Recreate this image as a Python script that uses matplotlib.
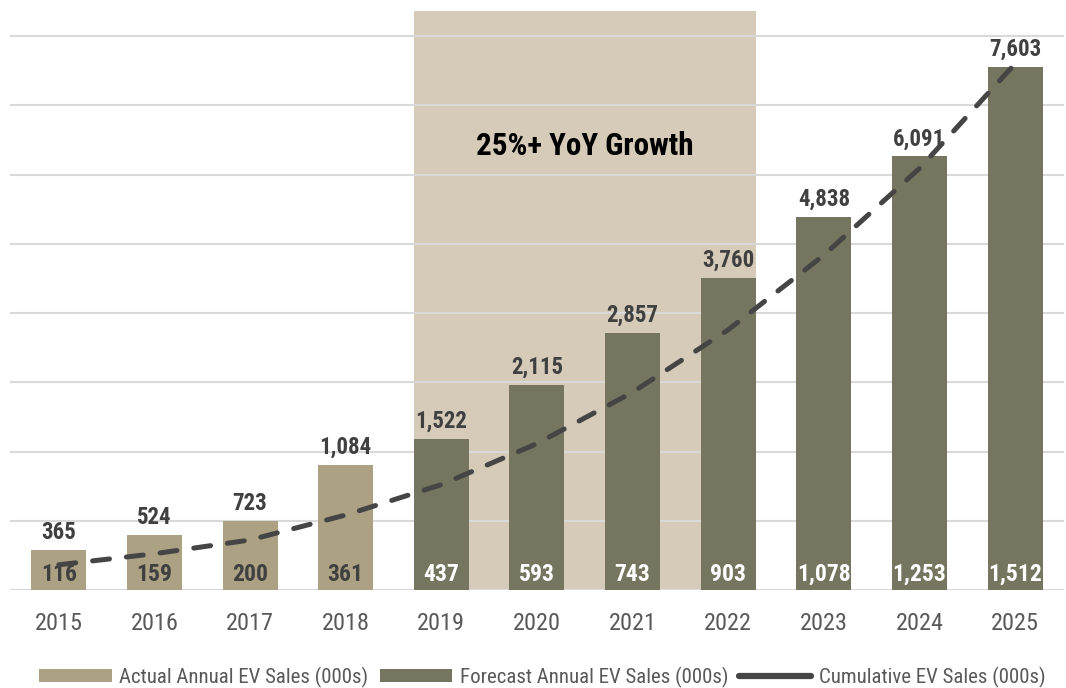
import matplotlib.pyplot as plt
import numpy as np
from matplotlib.patches import Patch
from matplotlib.lines import Line2D

years = [2015, 2016, 2017, 2018, 2019, 2020, 2021, 2022, 2023, 2024, 2025]
annual_sales = [116, 159, 200, 361, 437, 593, 743, 903, 1078, 1253, 1512]
cumulative_sales = [365, 524, 723, 1084, 1522, 2115, 2857, 3760, 4838, 6091, 7603]
actual_years = [2015, 2016, 2017, 2018]

C_ACTUAL = "#ada183"
C_FORECAST = "#76755f"
C_SHADE = "#d5cbb8"
C_LINE = "#454545"
C_TEXT = "#404040"
C_TICK = "#595959"

plt.rcParams["font.family"] = ["Roboto Condensed", "DejaVu Sans"]

fig = plt.figure(figsize=(10.66, 6.88), dpi=100)
ax = fig.add_axes([0.0094, 0.1424, 0.9886, 0.8416])
x = np.arange(len(years))
width = 0.575
YMAX = 1673

# shaded growth window (2019-2022)
i0, i1 = years.index(2019), years.index(2022)
ax.axvspan(x[i0] - width / 2, x[i1] + width / 2, color=C_SHADE, zorder=0, lw=0)
ax.text((x[i0] + x[i1]) / 2, 1257, "25%+ YoY Growth", ha="center", va="baseline",
        fontsize=22.3, fontweight="bold", color="black", zorder=5)

for yv in range(0, 1601, 200):
    ax.axhline(yv, color="#d9d9d9", lw=1.5, zorder=1)

colors = [C_ACTUAL if y in actual_years else C_FORECAST for y in years]
ax.bar(x, annual_sales, width=width, color=colors, zorder=2)

for xi, yr, a in zip(x, years, annual_sales):
    tc = C_TEXT if yr in actual_years else "white"
    ax.annotate(f"{a:,}", (xi, 0), xytext=(0, 6.5), textcoords="offset points",
                ha="center", va="baseline", fontsize=17, fontweight="bold",
                color=tc, zorder=6)

ax.set_xlim(-0.51, len(years) - 1 + 0.51)
ax.set_ylim(0, YMAX)
ax.set_xticks(x)
ax.set_xticklabels([str(y) for y in years], fontsize=17.5, color=C_TICK)
ax.tick_params(axis="x", length=0, pad=15.5)
ax.set_yticks([])
for s in ax.spines.values():
    s.set_visible(False)

# cumulative line on a secondary scale (5x the bar scale)
ax2 = ax.twinx()
ax2.set_ylim(0, YMAX * 5)
ax2.plot(x, cumulative_sales, color=C_LINE, lw=3.6, linestyle=(0, (3.4, 3.4)),
         dash_capstyle="round", zorder=4)
ax2.set_yticks([])
for s in ax2.spines.values():
    s.set_visible(False)

for xi, a, c in zip(x, annual_sales, cumulative_sales):
    ax.annotate(f"{c:,}", (xi, a), xytext=(0, 8), textcoords="offset points",
                ha="center", va="baseline", fontsize=16.5, fontweight="bold",
                color=C_TEXT, zorder=6)

handles = [
    Patch(facecolor=C_ACTUAL, label="Actual Annual EV Sales (000s)"),
    Patch(facecolor=C_FORECAST, label="Forecast Annual EV Sales (000s)"),
    Line2D([], [], color=C_LINE, lw=4.5, solid_capstyle="round",
           label="Cumulative EV Sales (000s)"),
]
fig.legend(handles=handles, loc="center", bbox_to_anchor=(0.509, 0.016), ncol=3,
           frameon=False, fontsize=15, labelcolor=C_TICK, handlelength=3.46,
           handleheight=0.6, handletextpad=0.38, columnspacing=0.53,
           borderpad=0, borderaxespad=0)

plt.savefig("out.png", dpi=100)
